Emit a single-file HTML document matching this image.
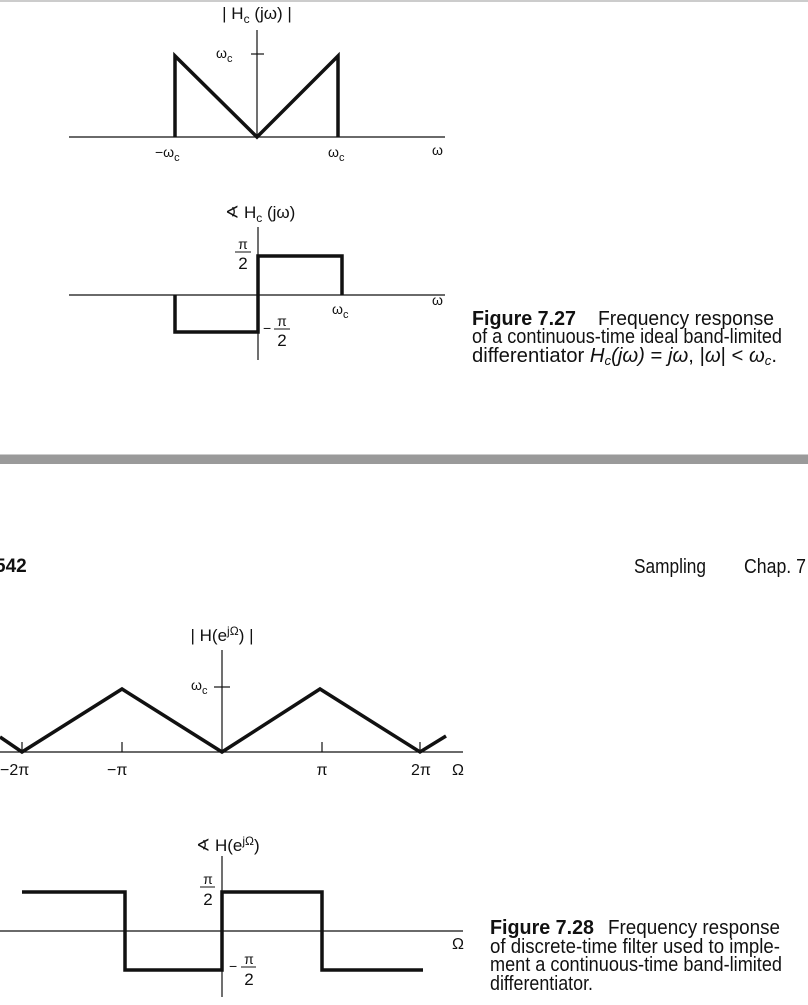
<!DOCTYPE html>
<html><head><meta charset="utf-8"><style>
html,body{margin:0;padding:0;background:#fff;}
svg{display:block;}
text{font-family:"Liberation Sans",sans-serif;fill:#111;}
</style></head><body>
<svg width="808" height="1005" viewBox="0 0 808 1005" xmlns="http://www.w3.org/2000/svg">
<rect x="0" y="0" width="808" height="2" fill="#ccc"/>
<!-- Top magnitude plot -->
<g stroke="#111" fill="none">
<line x1="69" y1="137" x2="445" y2="137" stroke-width="1.3"/>
<line x1="257" y1="30" x2="257" y2="137" stroke-width="1.2"/>
<line x1="251" y1="54" x2="264" y2="54" stroke-width="1.2"/>
<polyline points="175,137 175,56 257,137 338,56 338,137" stroke-width="3.5" stroke-linejoin="miter"/>
</g>
<text x="257" y="19" font-size="17" text-anchor="middle">| H<tspan font-size="12" dy="4">c</tspan><tspan dy="-4"> (jω) |</tspan></text>
<text x="216" y="58" font-size="14">ω<tspan font-size="11" dy="4">c</tspan></text>
<text x="155" y="157" font-size="14">−ω<tspan font-size="11" dy="4">c</tspan></text>
<text x="328" y="157" font-size="14">ω<tspan font-size="11" dy="4">c</tspan></text>
<text x="432" y="155" font-size="14">ω</text>
<!-- Top phase plot -->
<g stroke="#111" fill="none">
<line x1="69" y1="295" x2="445" y2="295" stroke-width="1.3"/>
<line x1="258" y1="227" x2="258" y2="360" stroke-width="1.2"/>
<polyline points="175,295 175,332 258,332 258,256 342,256 342,295" stroke-width="3.5"/>
<line x1="235" y1="252" x2="251" y2="252" stroke-width="1"/>
<line x1="274" y1="329" x2="290" y2="329" stroke-width="1"/>
</g>
<text x="225" y="218" font-size="17">∢ H<tspan font-size="12" dy="4">c</tspan><tspan dy="-4"> (jω)</tspan></text>
<text x="243" y="249" font-size="14" text-anchor="middle">π</text>
<text x="243" y="269" font-size="17" text-anchor="middle">2</text>
<text x="263" y="333" font-size="14">−</text>
<text x="282" y="326" font-size="14" text-anchor="middle">π</text>
<text x="282" y="346" font-size="17" text-anchor="middle">2</text>
<text x="332" y="314" font-size="14">ω<tspan font-size="11" dy="4">c</tspan></text>
<text x="432" y="305" font-size="14">ω</text>
<!-- Caption 7.27 -->
<text x="472" y="325" font-size="20" font-weight="bold" textLength="104" lengthAdjust="spacingAndGlyphs">Figure 7.27</text>
<text x="598" y="325" font-size="20" textLength="176" lengthAdjust="spacingAndGlyphs">Frequency response</text>
<text x="472" y="343" font-size="20" textLength="310" lengthAdjust="spacingAndGlyphs">of a continuous-time ideal band-limited</text>
<text x="472" y="362" font-size="20" textLength="305" lengthAdjust="spacingAndGlyphs">differentiator <tspan font-style="italic">H<tspan font-size="13" dy="3">c</tspan><tspan dy="-3">(jω)</tspan></tspan> = <tspan font-style="italic">jω</tspan>, |<tspan font-style="italic">ω</tspan>| &lt; <tspan font-style="italic">ω<tspan font-size="13" dy="3">c</tspan></tspan><tspan dy="-3">.</tspan></text>
<!-- separator -->
<rect x="0" y="455" width="808" height="9" fill="#9a9a9a"/>
<rect x="0" y="454" width="808" height="1" fill="#ccc"/>
<!-- header -->
<text x="-5" y="572" font-size="19" font-weight="bold">542</text>
<text x="634" y="573" font-size="20" textLength="72" lengthAdjust="spacingAndGlyphs">Sampling</text>
<text x="744" y="573" font-size="20" textLength="62" lengthAdjust="spacingAndGlyphs">Chap. 7</text>
<!-- Bottom magnitude -->
<g stroke="#111" fill="none">
<line x1="0" y1="752" x2="463" y2="752" stroke-width="1.3"/>
<line x1="222" y1="650" x2="222" y2="752" stroke-width="1.2"/>
<line x1="214" y1="687" x2="230" y2="687" stroke-width="1.2"/>
<line x1="22" y1="742" x2="22" y2="752" stroke-width="1.2"/>
<line x1="122" y1="742" x2="122" y2="752" stroke-width="1.2"/>
<line x1="322" y1="742" x2="322" y2="752" stroke-width="1.2"/>
<line x1="420" y1="742" x2="420" y2="752" stroke-width="1.2"/>
<polyline points="0,737 22,752 122,689 222,752 320,689 420,752 446,736" stroke-width="3.5"/>
</g>
<text x="222" y="641" font-size="17" text-anchor="middle">| H(e<tspan font-size="12" dy="-6">jΩ</tspan><tspan dy="6">) |</tspan></text>
<text x="191" y="690" font-size="14">ω<tspan font-size="11" dy="4">c</tspan></text>
<text x="0" y="775" font-size="16">−2π</text>
<text x="107" y="775" font-size="16">−π</text>
<text x="322" y="775" font-size="16" text-anchor="middle">π</text>
<text x="411" y="775" font-size="16">2π</text>
<text x="452" y="775" font-size="16">Ω</text>
<!-- Bottom phase -->
<g stroke="#111" fill="none">
<line x1="0" y1="931" x2="463" y2="931" stroke-width="1.3"/>
<line x1="222" y1="856" x2="222" y2="997" stroke-width="1.2"/>
<polyline points="22,892 125,892 125,970 222,970 222,892 322,892 322,970 423,970" stroke-width="3.5"/>
<line x1="200" y1="887" x2="215" y2="887" stroke-width="1"/>
<line x1="241" y1="967" x2="256" y2="967" stroke-width="1"/>
</g>
<text x="196" y="851" font-size="17">∢ H(e<tspan font-size="12" dy="-6">jΩ</tspan><tspan dy="6">)</tspan></text>
<text x="208" y="884" font-size="14" text-anchor="middle">π</text>
<text x="208" y="905" font-size="17" text-anchor="middle">2</text>
<text x="229" y="971" font-size="14">−</text>
<text x="249" y="964" font-size="14" text-anchor="middle">π</text>
<text x="249" y="985" font-size="17" text-anchor="middle">2</text>
<text x="452" y="949" font-size="16">Ω</text>
<!-- Caption 7.28 -->
<text x="490" y="934" font-size="20" font-weight="bold" textLength="104" lengthAdjust="spacingAndGlyphs">Figure 7.28</text>
<text x="608" y="934" font-size="20" textLength="172" lengthAdjust="spacingAndGlyphs">Frequency response</text>
<text x="490" y="953" font-size="20" textLength="290" lengthAdjust="spacingAndGlyphs">of discrete-time filter used to imple-</text>
<text x="490" y="971" font-size="20" textLength="292" lengthAdjust="spacingAndGlyphs">ment a continuous-time band-limited</text>
<text x="490" y="990" font-size="20" textLength="103" lengthAdjust="spacingAndGlyphs">differentiator.</text>
</svg>
</body></html>
